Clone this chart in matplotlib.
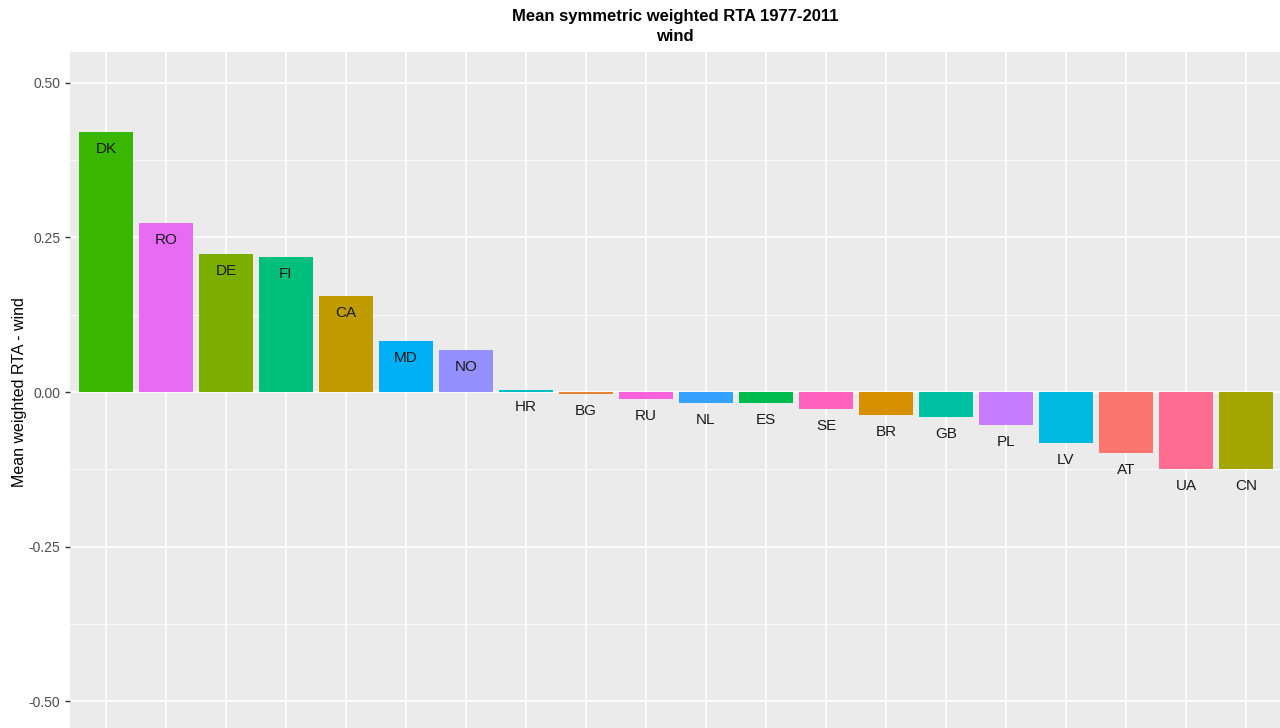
import matplotlib.pyplot as plt

plt.rcParams['font.family'] = ['Liberation Sans', 'DejaVu Sans']

countries = ['DK', 'RO', 'DE', 'FI', 'CA', 'MD', 'NO', 'HR', 'BG', 'RU',
             'NL', 'ES', 'SE', 'BR', 'GB', 'PL', 'LV', 'AT', 'UA', 'CN']
rta = [0.421, 0.273, 0.223, 0.218, 0.155, 0.083, 0.068, 0.003, -0.004, -0.012,
       -0.018, -0.017, -0.028, -0.037, -0.041, -0.054, -0.083, -0.098, -0.125, -0.124]
colors = ['#39B600', '#E76BF3', '#7CAE00', '#00BF7D', '#C09B00', '#00B0F6', '#9590FF',
          '#00BFC4', '#EA8331', '#FA62DB', '#35A2FF', '#00BB4E', '#FF62BC', '#D89000',
          '#00C1A3', '#C77CFF', '#00BAE0', '#F8766D', '#FF6C91', '#A3A500']
yticks = [-0.5, -0.25, 0.0, 0.25, 0.5]
ytick_labels = ['-0.50', '-0.25', '0.00', '0.25', '0.50']

fig = plt.figure(figsize=(12.8, 7.28), dpi=100)
ax = fig.add_axes([70 / 1280, -4 / 728, 1212 / 1280, 680 / 728])
ax.set_facecolor('#EBEBEB')

xs = list(range(1, len(countries) + 1))

# grid (ggplot style)
for yv in [-0.375, -0.125, 0.125, 0.375]:
    ax.axhline(yv, color='white', lw=0.6, zorder=0)
for yv in yticks:
    ax.axhline(yv, color='white', lw=1.2, zorder=0)
for xv in xs:
    ax.axvline(xv, color='white', lw=1.2, zorder=0)

ax.bar(xs, rta, width=0.9, color=colors, zorder=2)

# labels at value position, shifted down
for x, v, c in zip(xs, rta, countries):
    ax.annotate(c, (x, v), xytext=(0, -17), textcoords='offset pixels',
                ha='center', va='center', fontsize=11, color='#1a1a1a', zorder=3)

ax.set_xlim(0.4, 20.6)
ax.set_ylim(-0.55, 0.55)
ax.set_yticks(yticks)
ax.set_yticklabels(ytick_labels, color='#4D4D4D', fontsize=10)
ax.set_xticks([])
ax.tick_params(axis='y', length=3.5, color='#333333', width=1)
for s in ax.spines.values():
    s.set_visible(False)

ax.set_ylabel('Mean weighted RTA - wind', fontsize=11.5)
ax.yaxis.set_label_coords(-43 / 1212, 0.5)
fig.text(675 / 1280, 1 - 9 / 728, 'Mean symmetric weighted RTA 1977-2011\nwind',
         ha='center', va='top', fontsize=12, fontweight='bold', linespacing=1.4)

fig.savefig('out.png', dpi=100)
